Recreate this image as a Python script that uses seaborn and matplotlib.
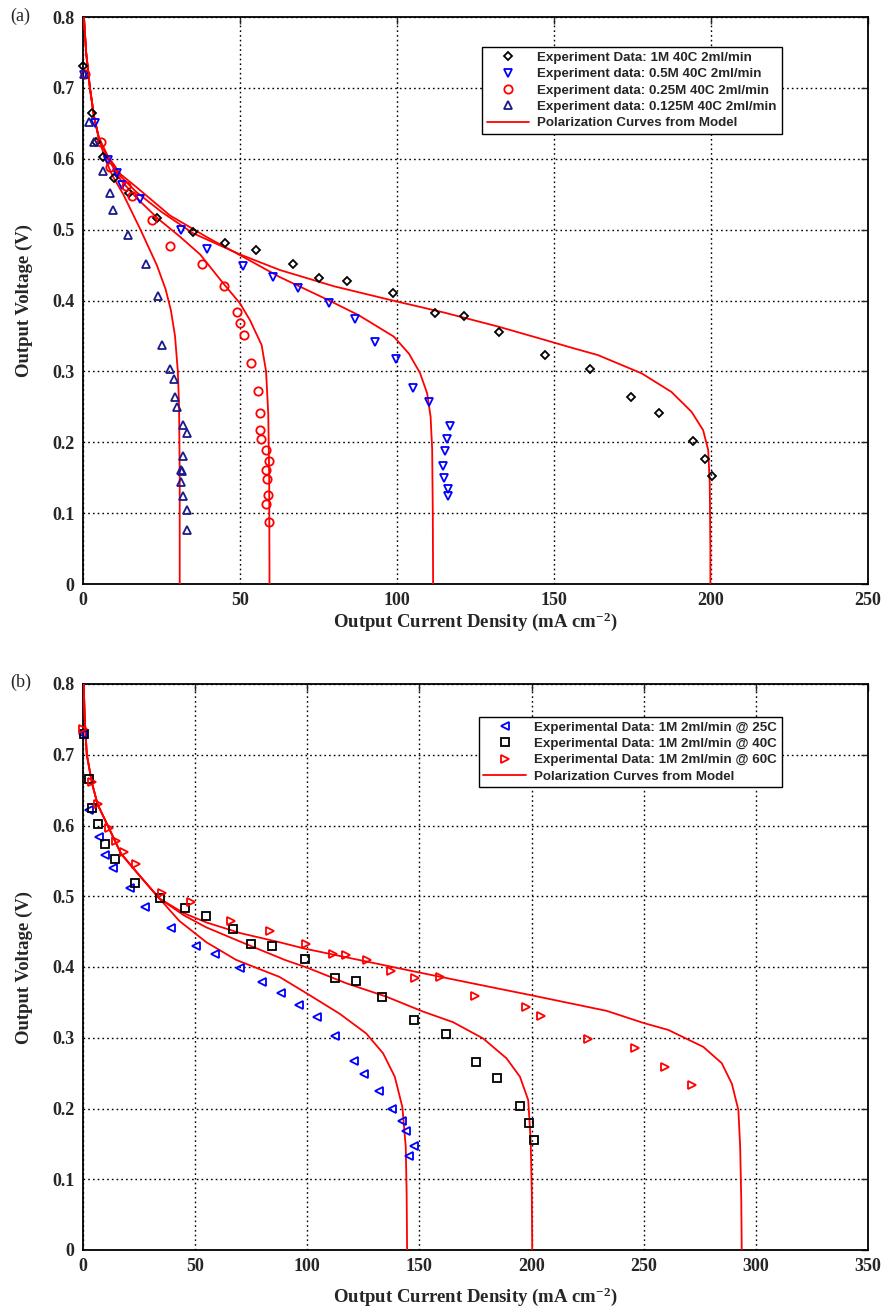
import numpy as np
import pandas as pd
import matplotlib
matplotlib.use("Agg")
import matplotlib.pyplot as plt
import seaborn as sns
from matplotlib.lines import Line2D

# ---------------- Panel (a) data ----------------
a_1M_x = [0.1, 2.8, 4.1, 6.5, 9.9, 14.7, 23.6, 35.0, 45.3, 55.2, 66.8, 75.0, 84.1, 98.6, 112.2, 121.4,
          132.4, 147.2, 161.4, 174.5, 183.5, 194.2, 198.2, 200.4]
a_1M_y = [0.731, 0.665, 0.624, 0.602, 0.573, 0.551, 0.517, 0.496, 0.481, 0.471, 0.452, 0.432, 0.427, 0.410,
          0.382, 0.378, 0.355, 0.323, 0.303, 0.264, 0.241, 0.202, 0.177, 0.153]

a_05M_x = [0.3, 3.8, 8.0, 10.7, 12.5, 18.3, 31.2, 39.4, 51.0, 60.5, 68.4, 78.2, 86.7, 92.9, 99.6, 105.2,
           110.3, 117.0, 115.8, 115.2, 114.5, 114.9, 116.1, 116.3]
a_05M_y = [0.718, 0.651, 0.598, 0.580, 0.563, 0.543, 0.500, 0.472, 0.449, 0.433, 0.418, 0.397, 0.374, 0.342,
           0.317, 0.277, 0.257, 0.223, 0.205, 0.188, 0.166, 0.149, 0.134, 0.124]

a_025M_x = [0.5, 5.6, 8.6, 13.7, 15.5, 22.1, 27.8, 38.0, 44.8, 48.9, 50.0, 51.4, 53.4, 55.8, 56.4, 56.4,
            56.7, 58.3, 59.3, 58.3, 58.7, 58.9, 58.4, 59.2]
a_025M_y = [0.720, 0.623, 0.589, 0.561, 0.548, 0.514, 0.477, 0.452, 0.420, 0.384, 0.368, 0.352, 0.312, 0.272,
            0.241, 0.217, 0.204, 0.189, 0.174, 0.161, 0.148, 0.125, 0.113, 0.088]

a_0125M_x = [0.3, 2.0, 3.5, 6.5, 8.6, 9.6, 14.4, 20.2, 24.0, 25.3, 27.7, 28.9, 29.3, 29.9, 31.9, 33.0,
             32.0, 31.3, 31.5, 31.1, 31.9, 33.1, 33.1]
a_0125M_y = [0.720, 0.652, 0.623, 0.583, 0.551, 0.527, 0.492, 0.452, 0.406, 0.337, 0.303, 0.289, 0.264,
             0.250, 0.225, 0.213, 0.180, 0.161, 0.159, 0.144, 0.124, 0.104, 0.076]

# model curves (a)
a_m1M_x = [0.3, 1.0, 2.2, 3.5, 5.0, 8.0, 12.0, 17.0, 25.0, 35.0, 50.0, 62.7, 80.0, 98.6, 115.0, 132.4,
           145.0, 156.7, 164.0, 178.0, 187.4, 193.8, 197.5, 199.1, 199.6, 199.8, 199.8]
a_m1M_y = [0.80, 0.75, 0.70, 0.66, 0.63, 0.60, 0.575, 0.553, 0.525, 0.495, 0.465, 0.443, 0.420, 0.400,
           0.383, 0.363, 0.347, 0.332, 0.323, 0.297, 0.271, 0.243, 0.217, 0.189, 0.142, 0.05, 0.0]
a_m05M_x = [0.3, 1.0, 2.2, 3.5, 5.0, 8.0, 12.0, 17.0, 27.7, 40.0, 50.0, 62.7, 78.4, 87.9, 99.0, 103.8,
            107.3, 109.6, 110.7, 111.2, 111.4, 111.5]
a_m05M_y = [0.80, 0.75, 0.70, 0.66, 0.63, 0.603, 0.578, 0.560, 0.520, 0.488, 0.464, 0.433, 0.400, 0.379,
            0.349, 0.325, 0.298, 0.269, 0.236, 0.190, 0.100, 0.0]
a_m025M_x = [0.3, 1.0, 2.2, 3.5, 5.0, 8.0, 12.0, 17.0, 24.0, 30.9, 37.3, 44.7, 50.0, 53.2, 56.9, 58.3,
             59.0, 59.3, 59.4]
a_m025M_y = [0.80, 0.75, 0.70, 0.66, 0.63, 0.60, 0.57, 0.545, 0.515, 0.490, 0.465, 0.424, 0.396, 0.372,
             0.337, 0.300, 0.240, 0.150, 0.0]
a_m0125M_x = [0.3, 1.0, 2.2, 3.5, 5.0, 7.0, 9.5, 12.8, 18.3, 23.5, 26.3, 28.0, 29.3, 30.2, 30.6, 30.8, 30.8]
a_m0125M_y = [0.80, 0.75, 0.70, 0.66, 0.63, 0.60, 0.575, 0.550, 0.500, 0.450, 0.416, 0.386, 0.350, 0.300,
              0.250, 0.150, 0.0]

# ---------------- Panel (b) data ----------------
b_25C_x = [0.0, 2.8, 7.0, 9.8, 13.2, 21.1, 27.8, 39.3, 50.4, 58.9, 70.2, 79.6, 88.4, 96.3, 104.3, 112.2,
           120.7, 125.1, 131.8, 137.6, 142.1, 143.9, 147.6, 145.2]
b_25C_y = [0.730, 0.622, 0.584, 0.559, 0.540, 0.512, 0.485, 0.455, 0.430, 0.418, 0.398, 0.379, 0.363, 0.346,
           0.329, 0.303, 0.267, 0.249, 0.225, 0.199, 0.183, 0.168, 0.147, 0.133]
b_40C_x = [0.3, 2.5, 3.9, 6.5, 9.8, 14.4, 23.2, 34.4, 45.5, 55.0, 66.8, 75.1, 84.1, 98.8, 112.5, 121.6,
           133.2, 147.6, 162.0, 175.3, 184.4, 194.8, 198.7, 201.0]
b_40C_y = [0.730, 0.666, 0.625, 0.602, 0.574, 0.552, 0.519, 0.497, 0.483, 0.472, 0.454, 0.433, 0.429, 0.412,
           0.384, 0.380, 0.357, 0.325, 0.305, 0.266, 0.243, 0.204, 0.179, 0.156]
b_60C_x = [0.0, 4.0, 6.5, 11.7, 14.7, 18.1, 23.7, 35.3, 48.2, 65.8, 83.2, 99.6, 111.4, 117.1, 126.6, 137.5,
           147.9, 159.1, 174.7, 197.3, 204.0, 225.3, 246.1, 259.5, 271.4]
b_60C_y = [0.737, 0.661, 0.630, 0.597, 0.578, 0.562, 0.545, 0.505, 0.492, 0.465, 0.451, 0.433, 0.418, 0.417,
           0.410, 0.395, 0.385, 0.386, 0.359, 0.344, 0.331, 0.298, 0.285, 0.259, 0.233]

b_m25C_x = [0.3, 0.8, 1.7, 4.0, 6.5, 11.0, 17.0, 25.0, 34.0, 43.0, 55.0, 68.3, 87.6, 99.6, 114.4, 126.3,
            133.8, 139.0, 142.4, 143.9, 144.3, 144.5]
b_m25C_y = [0.80, 0.75, 0.70, 0.66, 0.63, 0.60, 0.56, 0.53, 0.497, 0.465, 0.435, 0.410, 0.386, 0.363,
            0.334, 0.306, 0.278, 0.245, 0.202, 0.146, 0.08, 0.0]
b_m40C_x = [0.3, 0.8, 1.7, 4.0, 6.5, 11.0, 17.0, 25.0, 34.0, 45.0, 55.0, 70.0, 90.0, 100.0, 117.4, 135.3,
            151.6, 165.0, 178.4, 188.8, 194.8, 198.5, 199.6, 200.1, 200.3]
b_m40C_y = [0.80, 0.75, 0.70, 0.66, 0.63, 0.60, 0.56, 0.53, 0.497, 0.473, 0.456, 0.436, 0.410, 0.399,
            0.377, 0.358, 0.337, 0.322, 0.299, 0.271, 0.245, 0.212, 0.155, 0.08, 0.0]
b_m60C_x = [0.3, 0.8, 1.7, 4.0, 6.5, 11.0, 17.0, 25.0, 34.0, 45.0, 55.0, 70.0, 87.6, 98.8, 148.7, 175.0,
            200.0, 233.5, 249.8, 261.0, 276.6, 284.8, 289.3, 292.2, 293.0, 293.5, 293.7]
b_m60C_y = [0.80, 0.75, 0.70, 0.66, 0.63, 0.60, 0.56, 0.53, 0.497, 0.476, 0.463, 0.448, 0.435, 0.426,
            0.393, 0.376, 0.360, 0.338, 0.321, 0.311, 0.287, 0.264, 0.235, 0.198, 0.146, 0.07, 0.0]

# ticks
a_xticks = [0, 50, 100, 150, 200, 250]
b_xticks = [0, 50, 100, 150, 200, 250, 300, 350]
y_ticks = [0, 0.1, 0.2, 0.3, 0.4, 0.5, 0.6, 0.7, 0.8]
y_ticklabels = ["0", "0.1", "0.2", "0.3", "0.4", "0.5", "0.6", "0.7", "0.8"]

a_labels = ["Experiment Data: 1M 40C 2ml/min", "Experiment data: 0.5M 40C 2ml/min",
            "Experiment data: 0.25M 40C 2ml/min", "Experiment data: 0.125M 40C 2ml/min"]
b_labels = ["Experimental Data: 1M 2ml/min @ 25C", "Experimental Data: 1M 2ml/min @ 40C",
            "Experimental Data: 1M 2ml/min @ 60C"]
model_label = "Polarization Curves from Model"

# ---------------- style ----------------
sns.set_style("white")
plt.rcParams["font.family"] = ["Liberation Serif", "DejaVu Serif"]
plt.rcParams["mathtext.fontset"] = "custom"
plt.rcParams["mathtext.rm"] = "Liberation Serif:bold"
plt.rcParams["mathtext.bf"] = "Liberation Serif:bold"
plt.rcParams["mathtext.it"] = "Liberation Serif:bold"

fig = plt.figure(figsize=(8.89, 13.09), dpi=100)
ax_a = fig.add_axes([83 / 889, 1 - 584 / 1309, 785 / 889, 567 / 1309])
ax_b = fig.add_axes([83 / 889, 1 - 1250 / 1309, 785 / 889, 566 / 1309])

RED = "#ff0000"
BLUE = "#0000ff"
NAVY = "#1a1a8c"


def draw_markers(ax, x, y, marker, color, ms):
    df = pd.DataFrame({"x": x, "y": y})
    sns.lineplot(data=df, x="x", y="y", ax=ax, estimator=None, sort=False,
                 linestyle="none", marker=marker, markersize=ms, markerfacecolor="none",
                 markeredgecolor=color, markeredgewidth=1.3, color=color, clip_on=False, zorder=4)


def draw_curve(ax, x, y):
    df = pd.DataFrame({"x": x, "y": y})
    sns.lineplot(data=df, x="x", y="y", ax=ax, estimator=None, sort=False,
                 color=RED, linewidth=1.3, zorder=3)


def style_axes(ax, xticks, xmax, xlabelpad):
    ax.set_xlim(0, xmax)
    ax.set_ylim(0, 0.8)
    ax.set_xticks(xticks)
    ax.set_xticklabels([str(t) for t in xticks])
    ax.set_yticks(y_ticks)
    ax.set_yticklabels(y_ticklabels)
    ax.grid(True, color="black", linestyle=(0, (1.2, 2.2)), linewidth=1.0)
    ax.set_axisbelow(True)
    for s in ax.spines.values():
        s.set_color("black")
        s.set_linewidth(1.3)
    ax.tick_params(direction="in", length=5, width=1.0, top=True, right=True,
                   labelsize=13, pad=6)
    for lab in ax.get_xticklabels() + ax.get_yticklabels():
        lab.set_fontweight("bold")
    ax.set_ylabel("Output Voltage (V)", fontsize=13.5, fontweight="bold", labelpad=14)
    ax.set_xlabel("Output Current Density (mA cm$^{-2}$)", fontsize=13.5, fontweight="bold",
                  labelpad=xlabelpad)


def mk(marker, color, ms):
    return Line2D([], [], linestyle="none", marker=marker, markersize=ms, markerfacecolor="none",
                  markeredgecolor=color, markeredgewidth=1.3)


LEG_PROP = {"family": "Liberation Sans", "weight": "bold", "size": 9.6}

# ---------------- Panel (a) ----------------
for cx, cy in [(a_m1M_x, a_m1M_y), (a_m05M_x, a_m05M_y), (a_m025M_x, a_m025M_y), (a_m0125M_x, a_m0125M_y)]:
    draw_curve(ax_a, cx, cy)
draw_markers(ax_a, a_1M_x, a_1M_y, "D", "black", 4.5)
draw_markers(ax_a, a_05M_x, a_05M_y, "v", BLUE, 6)
draw_markers(ax_a, a_025M_x, a_025M_y, "o", RED, 6)
draw_markers(ax_a, a_0125M_x, a_0125M_y, "^", NAVY, 6)
style_axes(ax_a, a_xticks, 250, 1)

handles_a = [mk("D", "black", 4.5), mk("v", BLUE, 6), mk("o", RED, 6), mk("^", NAVY, 6),
             Line2D([], [], color=RED, linewidth=1.3)]
leg_a = ax_a.legend(handles_a, a_labels + [model_label], loc="upper right",
                    bbox_to_anchor=(0.890, 0.947), frameon=True, fancybox=False, framealpha=1,
                    edgecolor="black", handlelength=3.2, handletextpad=0.6, labelspacing=0.3,
                    borderpad=0.35, borderaxespad=0, prop=LEG_PROP)
leg_a.get_frame().set_linewidth(1.0)

# ---------------- Panel (b) ----------------
for cx, cy in [(b_m25C_x, b_m25C_y), (b_m40C_x, b_m40C_y), (b_m60C_x, b_m60C_y)]:
    draw_curve(ax_b, cx, cy)
draw_markers(ax_b, b_25C_x, b_25C_y, "<", BLUE, 6)
draw_markers(ax_b, b_40C_x, b_40C_y, "s", "black", 5.5)
draw_markers(ax_b, b_60C_x, b_60C_y, ">", RED, 6)
style_axes(ax_b, b_xticks, 350, 7)

handles_b = [mk("<", BLUE, 6), mk("s", "black", 5.5), mk(">", RED, 6),
             Line2D([], [], color=RED, linewidth=1.3)]
leg_b = ax_b.legend(handles_b, b_labels + [model_label], loc="upper right",
                    bbox_to_anchor=(0.890, 0.942), frameon=True, fancybox=False, framealpha=1,
                    edgecolor="black", handlelength=3.2, handletextpad=0.6, labelspacing=0.3,
                    borderpad=0.35, borderaxespad=0, prop=LEG_PROP)
leg_b.get_frame().set_linewidth(1.0)

fig.text(10 / 889, 1 - 16 / 1309, "(a)", fontsize=13, ha="left", va="center")
fig.text(10 / 889, 1 - 682 / 1309, "(b)", fontsize=13, ha="left", va="center")

fig.savefig("out.png", dpi=100)
